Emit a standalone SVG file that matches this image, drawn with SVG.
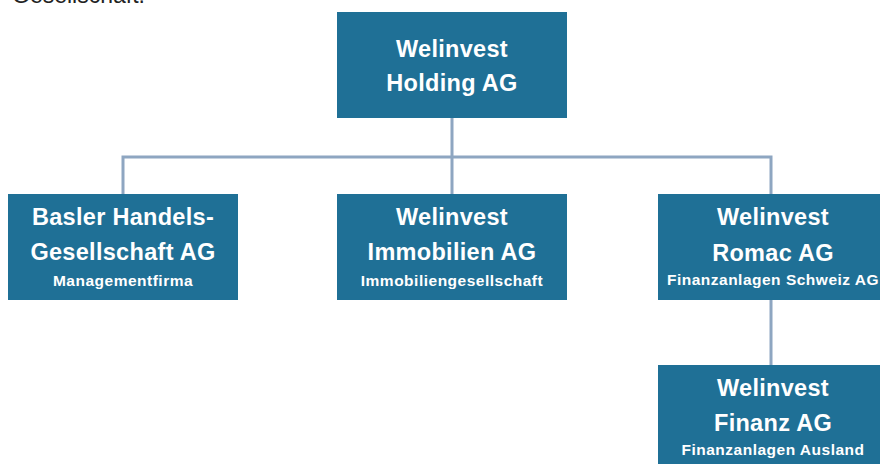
<svg xmlns="http://www.w3.org/2000/svg" width="880" height="464" viewBox="0 0 880 464">
<style>
.box{fill:#1f7096}
.t{font-family:"Liberation Sans",Arial,sans-serif;font-weight:bold;fill:#fff;text-anchor:middle}
.h{font-size:23.5px;letter-spacing:0.3px}
.s{font-size:15.5px;letter-spacing:0.5px}
.c{fill:none;stroke:#8ea6c1;stroke-width:3}
</style>
<rect width="880" height="464" fill="#fff"/>
<text x="12" y="3" font-family="'Liberation Sans',Arial,sans-serif" font-size="23" fill="#222">Gesellschaft.</text>
<g id="connectors">
<path class="c" d="M452 118V157M123 194V157H771V194M452 157V194M771 300V365"/>
</g>
<g id="holding">
<rect class="box" x="337" y="12" width="230" height="106"/>
<text class="t h" x="452" y="57">Welinvest</text>
<text class="t h" x="452" y="91">Holding AG</text>
</g>
<g id="basler">
<rect class="box" x="8" y="194" width="230" height="106"/>
<text class="t h" x="123" y="225">Basler Handels-</text>
<text class="t h" x="123" y="260">Gesellschaft AG</text>
<text class="t s" x="123" y="286">Managementfirma</text>
</g>
<g id="immobilien">
<rect class="box" x="337" y="194" width="230" height="106"/>
<text class="t h" x="452" y="225">Welinvest</text>
<text class="t h" x="452" y="260">Immobilien AG</text>
<text class="t s" x="452" y="286">Immobiliengesellschaft</text>
</g>
<g id="romac">
<rect class="box" x="658" y="194" width="230" height="106"/>
<text class="t h" x="773" y="225">Welinvest</text>
<text class="t h" x="773" y="261">Romac AG</text>
<text class="t s" x="773" y="285">Finanzanlagen Schweiz AG</text>
</g>
<g id="finanz">
<rect class="box" x="658" y="365" width="230" height="106"/>
<text class="t h" x="773" y="396">Welinvest</text>
<text class="t h" x="773" y="431">Finanz AG</text>
<text class="t s" x="773" y="455">Finanzanlagen Ausland</text>
</g>
</svg>
